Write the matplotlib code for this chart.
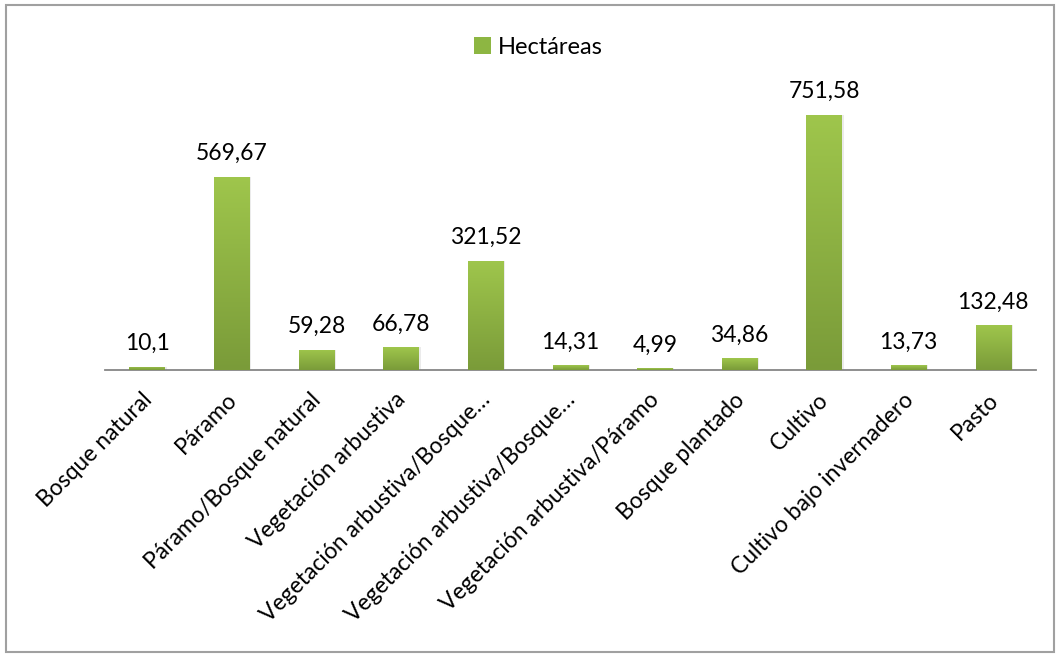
import matplotlib
matplotlib.use("Agg")
import matplotlib.pyplot as plt
import numpy as np
from matplotlib.patches import Rectangle
from matplotlib.colors import LinearSegmentedColormap

categories = ["Bosque natural", "Páramo", "Páramo/Bosque natural", "Vegetación arbustiva",
              "Vegetación arbustiva/Bosque…", "Vegetación arbustiva/Bosque…",
              "Vegetación arbustiva/Páramo", "Bosque plantado", "Cultivo",
              "Cultivo bajo invernadero", "Pasto"]
values = [10.1, 569.67, 59.28, 66.78, 321.52, 14.31, 4.99, 34.86, 751.58, 13.73, 132.48]
value_labels = ["10,1", "569,67", "59,28", "66,78", "321,52", "14,31", "4,99", "34,86",
                "751,58", "13,73", "132,48"]
series_name = "Hectáreas"

plt.rcParams['font.family'] = ['Lato', 'DejaVu Sans']

fig = plt.figure(figsize=(10.6, 6.55), dpi=100)
ax = fig.add_axes([0.099, 0.435, 0.878, 0.4145])

cmap = LinearSegmentedColormap.from_list("g", ["#7a9b39", "#9fc64c"])
grad = np.linspace(0, 1, 256).reshape(-1, 1)

x = np.arange(len(categories))
bars = ax.bar(x, values, width=0.42, color="none", edgecolor="none", zorder=3)
for b in bars:
    x0, w, h = b.get_x(), b.get_width(), b.get_height()
    ax.add_patch(Rectangle((x0 + 0.02, 0), w, h, facecolor="#000000", alpha=0.08,
                           edgecolor="none", zorder=2))
    im = ax.imshow(grad, cmap=cmap, origin="lower", aspect="auto",
                   extent=(x0, x0 + w, 0, h), zorder=3)
    im.set_clip_path(b)

ax.set_xlim(-0.5, len(categories) - 0.5)
ax.set_ylim(0, 800)
for s in ["top", "right", "left"]:
    ax.spines[s].set_visible(False)
ax.spines["bottom"].set_color("#868686")
ax.spines["bottom"].set_linewidth(1.3)
ax.set_yticks([])
ax.set_xticks(x)
ax.set_xticklabels([])
ax.tick_params(axis="x", length=0)

for xi, v, lab in zip(x, values, value_labels):
    ax.annotate(lab, (xi, v), xytext=(0, 12), textcoords="offset points",
                ha="center", va="baseline", fontsize=16.5, color="#000000")

for xi, lab in zip(x, categories):
    ax.annotate(lab, (xi, 0), xytext=(1, -19), textcoords="offset points",
                ha="right", va="center", rotation=45, rotation_mode="anchor",
                fontsize=16.5, color="#000000")

handle = Rectangle((0, 0), 1, 1, facecolor="#8db642", edgecolor="none")
fig.legend([handle], [series_name], loc="center", bbox_to_anchor=(0.508, 0.928),
           frameon=False, fontsize=17, handlelength=0.7, handleheight=0.7,
           handletextpad=0.3)

fig.patches.append(Rectangle((0.006, 0.005), 0.988, 0.987, transform=fig.transFigure,
                             facecolor="none", edgecolor="#a0a0a0", linewidth=1.5))

fig.savefig("out.png", dpi=100)
